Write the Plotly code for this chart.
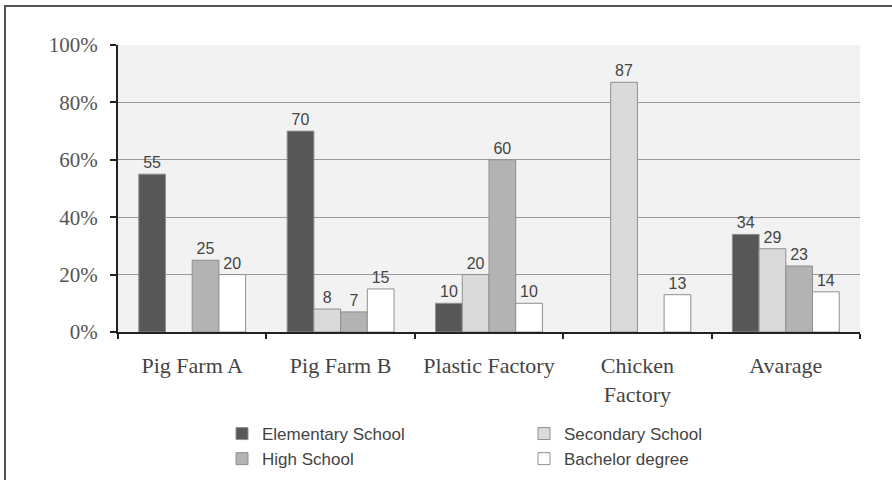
import plotly.graph_objects as go

categories = ["Pig Farm A", "Pig Farm B", "Plastic Factory", "Chicken<br>Factory", "Avarage"]
elementary = [55, 70, 10, 0, 34]
secondary = [0, 8, 20, 87, 29]
high_school = [25, 7, 60, 0, 23]
bachelor = [20, 15, 10, 13, 14]
series_names = ["Elementary School", "Secondary School", "High School", "Bachelor degree"]
series_values = [elementary, secondary, high_school, bachelor]
series_colors = ["#575757", "#dadada", "#b3b3b3", "#ffffff"]
y_ticks = [0, 20, 40, 60, 80, 100]

fig = go.Figure()
for name, vals, col in zip(series_names, series_values, series_colors):
    fig.add_trace(go.Bar(
        name=name, x=categories, y=[v if v else None for v in vals],
        marker=dict(color=col, line=dict(color="#8f8f8f", width=1)),
        text=[str(v) if v else "" for v in vals],
        textposition="outside", cliponaxis=False,
        textfont=dict(family="Liberation Sans, Arial", size=16, color="#444444"),
    ))

L, R, T, B = 118, 32, 45, 148
W, H = 892, 480
pw, ph = W - L - R, H - T - B

def px_x(p):
    return (p - L) / pw

def px_y(p):
    return (H - B - p) / ph

fig.update_layout(
    width=W, height=H,
    margin=dict(l=L, r=R, t=T, b=B, pad=0, autoexpand=False),
    paper_bgcolor="#ffffff", plot_bgcolor="#f2f2f2",
    barmode="group", bargap=0.28, bargroupgap=0,
    showlegend=True,
    legend=dict(
        orientation="h", xref="container", yref="container",
        x=222 / W, y=1 - 416 / H, xanchor="left", yanchor="top",
        entrywidth=257, entrywidthmode="pixels", traceorder="normal",
        font=dict(family="Liberation Sans, Arial", size=17, color="#444444"),
        bgcolor="rgba(0,0,0,0)", itemwidth=30, tracegroupgap=0,
    ),
    xaxis=dict(
        automargin=False,
        showline=True, linecolor="#222222", linewidth=2,
        ticks="outside", tickson="boundaries", ticklen=5, tickcolor="#222222", tickwidth=2,
        tickfont=dict(family="Liberation Serif, Times New Roman", size=22, color="#444444"),
        ticklabelstandoff=13,
    ),
    yaxis=dict(
        automargin=False,
        range=[0, 100], tickvals=y_ticks, ticktext=[f"{v}%" for v in y_ticks],
        showline=True, linecolor="#222222", linewidth=2,
        ticks="outside", ticklen=6, tickcolor="#222222", tickwidth=2,
        showgrid=True, gridcolor="#9a9a9a", gridwidth=1,
        zeroline=False,
        tickfont=dict(family="Liberation Serif, Times New Roman", size=21, color="#555555"),
        ticklabelstandoff=8,
    ),
    shapes=[dict(
        type="rect", xref="paper", yref="paper",
        x0=px_x(5), x1=px_x(1000), y0=px_y(600), y1=px_y(6),
        line=dict(color="#555555", width=2), fillcolor="rgba(0,0,0,0)", layer="below",
    )],
)

fig.write_html("out.html")
